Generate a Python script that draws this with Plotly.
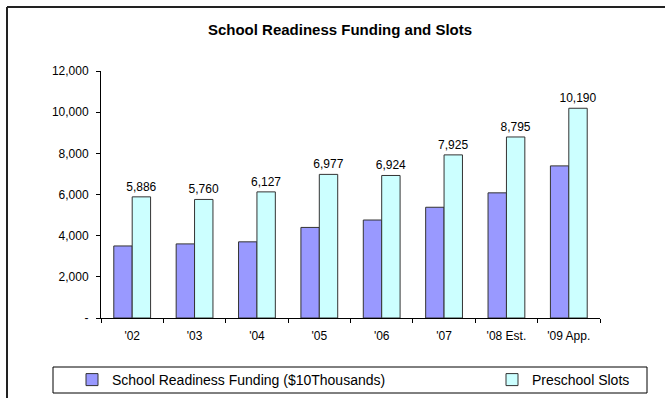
import plotly.graph_objects as go

# Fiscal years shown on the category axis
years = ["'02", "'03", "'04", "'05", "'06", "'07", "'08 Est.", "'09 App."]

# School Readiness funding, in units of $10 thousand
funding = [3500, 3600, 3700, 4400, 4760, 5380, 6080, 7390]

# Preschool slots (labelled above each bar)
slots = [5886, 5760, 6127, 6977, 6924, 7925, 8795, 10190]

# Value-axis ticks; zero is shown as a dash (accounting style)
y_ticks = [0, 2000, 4000, 6000, 8000, 10000, 12000]
y_tick_text = ["-", "2,000", "4,000", "6,000", "8,000", "10,000", "12,000"]

W, H = 665, 398
ML, MR, MT, MB = 101, 65, 71, 80
PW, PH = W - ML - MR, H - MT - MB
FONT = "Liberation Sans, Arial, sans-serif"


def px_x(p):
    return (p - ML) / PW


def px_y(p):
    return (H - MB - p) / PH


fig = go.Figure()
fig.add_trace(go.Bar(
    x=years, y=funding, name="School Readiness Funding ($10Thousands)",
    marker=dict(color="#9999FF", line=dict(color="#333333", width=1)),
    legend="legend",
))
fig.add_trace(go.Bar(
    x=years, y=slots, name="Preschool Slots",
    marker=dict(color="#CCFFFF", line=dict(color="#333333", width=1)),
    text=slots, texttemplate="%{y:,}", textposition="outside",
    textfont=dict(size=12, color="black", family=FONT),
    constraintext="none", cliponaxis=False,
    legend="legend2",
))

legend_common = dict(
    orientation="h", xanchor="left", yanchor="middle",
    font=dict(size=14, family=FONT, color="black"),
    bgcolor="rgba(0,0,0,0)", borderwidth=0,
    xref="container", yref="container",
)

frame = dict(line=dict(color="#222222", width=2), xref="paper", yref="paper",
             type="line", layer="below")

fig.update_layout(
    width=W, height=H,
    margin=dict(l=ML, r=MR, t=MT, b=MB, autoexpand=False),
    paper_bgcolor="white", plot_bgcolor="white",
    font=dict(family=FONT, size=12, color="black"),
    barmode="group", bargap=0.41, bargroupgap=0,
    title=dict(
        text="<b>School Readiness Funding and Slots</b>",
        font=dict(size=15, family=FONT, color="black"),
        x=340 / W, xref="container", xanchor="center",
        y=1 - 30 / H, yref="container", yanchor="middle",
    ),
    xaxis=dict(
        showline=True, linecolor="black", linewidth=1,
        ticks="outside", tickson="boundaries", ticklen=4, tickcolor="black",
        tickfont=dict(size=12), showgrid=False, ticklabelstandoff=7,
    ),
    yaxis=dict(
        range=[0, 12000], tickvals=y_ticks, ticktext=y_tick_text,
        showline=True, linecolor="black", linewidth=1,
        ticks="outside", ticklen=4, tickcolor="black",
        tickfont=dict(size=12), showgrid=False, zeroline=False,
        ticklabelstandoff=5,
    ),
    showlegend=True,
    legend=dict(legend_common, x=72 / W, y=1 - 380 / H),
    legend2=dict(legend_common, x=492 / W, y=1 - 380 / H),
    shapes=[
        # chart frame: left and top edges, running off the page
        dict(frame, x0=px_x(7), x1=px_x(7), y0=px_y(H), y1=px_y(7)),
        dict(frame, x0=px_x(7), x1=px_x(W), y0=px_y(7), y1=px_y(7)),
        # legend box
        dict(type="rect", xref="paper", yref="paper",
             x0=px_x(53), x1=px_x(647), y0=px_y(393), y1=px_y(367),
             line=dict(color="black", width=1), fillcolor="rgba(0,0,0,0)"),
    ],
)

# keep the page from scrolling: the figure fills the window exactly
fig.write_html(
    "out.html",
    config={"displayModeBar": False},
    post_script=(
        "document.documentElement.style.overflow='hidden';"
        "document.body.style.overflow='hidden';"
        "document.body.style.margin='0';"
    ),
)
